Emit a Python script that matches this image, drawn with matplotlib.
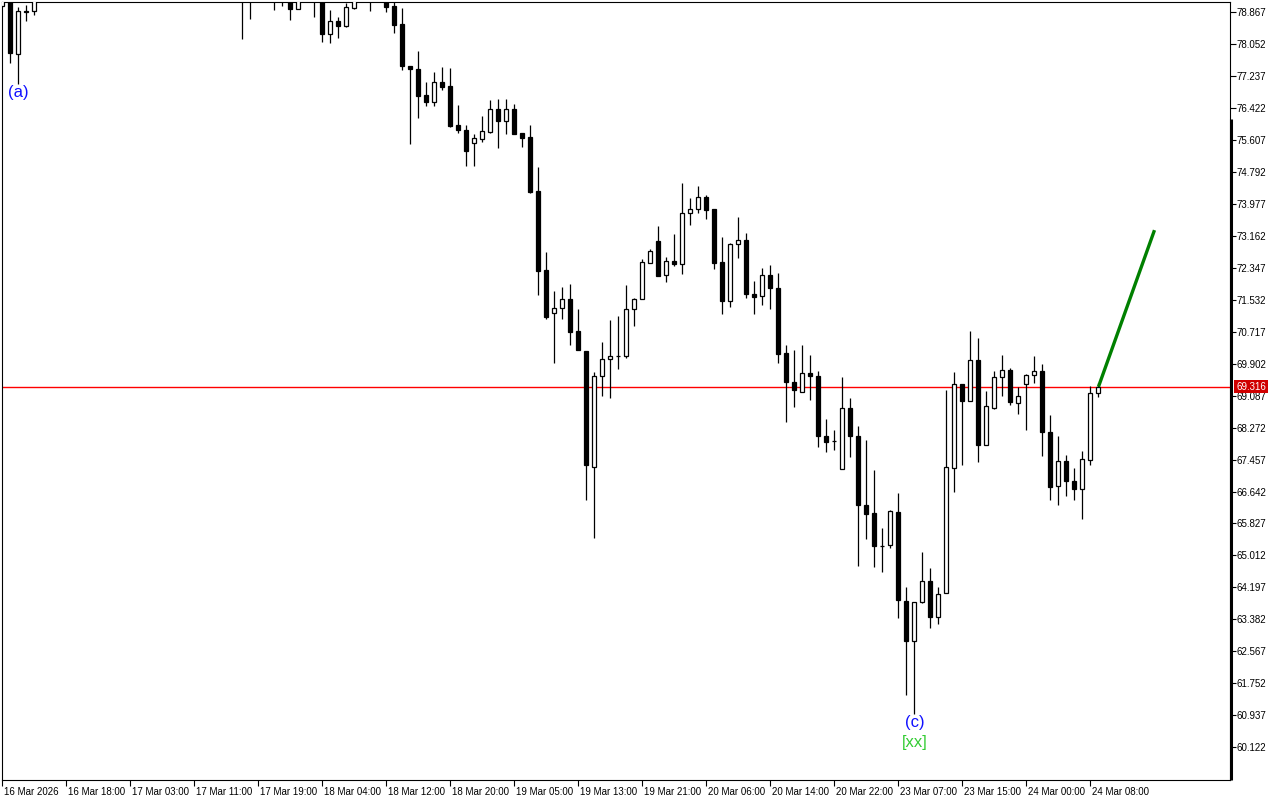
import numpy as np
import matplotlib.pyplot as plt
import matplotlib.transforms as mtransforms

plt.rcParams['font.family'] = ['Liberation Sans', 'DejaVu Sans']

# Hourly bars, index -1 .. 136 (bar 136 = 24 Mar 09:00)
opens = [79.04, 79.45, 77.80, 78.90, 78.91,
         79.30, 79.62, 79.80, 79.70, 79.95, 80.25, 80.10, 79.90, 80.15, 80.45,
         80.30, 80.05, 79.85, 80.00, 79.90, 79.65, 79.80, 80.10, 80.35, 80.15,
         79.95, 79.75, 79.85, 79.70, 79.60, 79.75, 79.55, 79.70, 79.50, 79.65,
         79.40, 79.60, 78.95, 79.25, 79.45, 79.30, 78.32, 78.65, 78.52, 78.98,
         79.30, 79.45, 79.35, 79.40, 79.02, 78.56, 77.51, 77.43, 76.75, 76.58,
         77.08, 76.98, 75.98, 75.86, 75.54, 75.64, 75.82, 76.39, 76.10, 76.39,
         75.78, 75.68, 74.30, 72.30, 71.19, 71.32, 71.56, 70.74, 70.23, 67.27,
         69.58, 70.02, 70.10, 70.09, 71.29, 71.55, 72.47, 73.03, 72.16, 72.52,
         72.45, 73.75, 73.86, 74.15, 73.85, 72.50, 71.51, 72.95, 73.06, 71.68,
         71.62, 72.17, 71.84, 70.18, 69.44, 69.19, 69.67, 69.59, 68.06, 67.92,
         67.22, 68.77, 68.07, 66.31, 66.10, 65.26, 65.29, 66.13, 63.86, 62.83,
         63.82, 64.37, 63.45, 64.06, 67.24, 69.39, 68.95, 69.99, 67.84, 68.77,
         69.56, 69.74, 68.90, 69.38, 69.61, 69.72, 68.16, 66.78, 67.42, 66.91,
         66.70, 67.45, 69.16]
highs = [79.50, 79.60, 78.99, 79.05, 79.45,
         79.75, 79.95, 80.10, 80.05, 80.40, 80.55, 80.35, 80.20, 80.60, 80.70,
         80.50, 80.25, 80.15, 80.30, 80.10, 79.95, 80.20, 80.45, 80.55, 80.30,
         80.20, 80.00, 80.10, 79.95, 79.90, 80.00, 79.85, 79.95, 79.80, 79.90,
         79.70, 79.80, 79.35, 79.50, 79.60, 79.45, 78.92, 78.76, 79.10, 79.40,
         79.55, 79.60, 79.55, 79.55, 79.25, 78.97, 77.51, 77.87, 77.08, 77.34,
         77.46, 77.44, 76.50, 75.99, 75.76, 76.22, 76.62, 76.65, 76.65, 76.52,
         75.78, 75.99, 74.92, 72.75, 71.76, 71.86, 71.94, 71.30, 70.23, 69.68,
         70.45, 71.02, 71.12, 71.91, 71.58, 72.57, 72.83, 73.41, 72.63, 73.21,
         74.50, 74.13, 74.43, 74.20, 73.85, 73.13, 72.97, 73.65, 73.24, 72.01,
         72.35, 72.42, 72.22, 70.38, 70.26, 70.38, 70.13, 69.71, 68.49, 68.22,
         69.56, 69.03, 68.31, 67.96, 67.20, 65.72, 66.16, 66.61, 64.20, 63.83,
         65.11, 64.70, 64.21, 69.22, 69.70, 69.39, 70.74, 70.56, 69.21, 69.72,
         70.13, 69.79, 69.32, 69.65, 70.09, 69.90, 68.60, 68.07, 67.58, 67.24,
         67.68, 69.34, 69.41]
lows = [79.04, 77.57, 77.03, 78.64, 78.80,
        79.22, 79.45, 79.55, 79.50, 79.85, 80.00, 79.80, 79.70, 80.05, 80.20,
        79.95, 79.75, 79.60, 79.80, 79.55, 79.40, 79.70, 79.95, 80.05, 79.85,
        79.65, 79.50, 79.60, 79.45, 79.35, 78.19, 78.70, 79.30, 79.25, 78.93,
        79.04, 78.67, 78.95, 79.20, 78.75, 78.11, 78.09, 78.21, 78.49, 78.95,
        79.20, 78.90, 79.22, 78.87, 78.34, 77.39, 75.50, 76.16, 76.47, 76.47,
        76.88, 75.94, 75.79, 74.94, 74.94, 75.56, 75.79, 75.41, 75.76, 75.77,
        75.43, 74.27, 71.66, 71.05, 69.91, 71.05, 70.39, 70.24, 66.43, 65.45,
        69.07, 69.02, 69.78, 70.04, 70.87, 71.55, 72.47, 72.15, 71.98, 72.40,
        72.20, 73.43, 73.75, 73.59, 72.31, 71.17, 71.36, 72.61, 71.59, 71.18,
        71.41, 71.31, 69.91, 68.41, 68.79, 69.18, 68.97, 67.77, 67.64, 67.69,
        67.22, 67.52, 64.74, 65.42, 64.71, 64.58, 65.19, 63.42, 61.44, 60.96,
        63.79, 63.16, 63.25, 64.06, 66.62, 67.33, 68.95, 67.39, 67.82, 68.75,
        69.07, 68.84, 68.61, 68.22, 69.40, 67.56, 66.43, 66.31, 66.52, 66.43,
        65.95, 67.33, 69.06]
closes = [79.35, 77.82, 78.89, 78.87, 79.30,
          79.62, 79.80, 79.70, 79.95, 80.25, 80.10, 79.90, 80.15, 80.45, 80.30,
          80.05, 79.85, 80.00, 79.90, 79.65, 79.80, 80.10, 80.35, 80.15, 79.95,
          79.75, 79.85, 79.70, 79.60, 79.75, 79.55, 79.70, 79.50, 79.65, 79.40,
          79.60, 78.95, 79.25, 79.45, 79.30, 78.31, 78.65, 78.53, 78.99, 79.30,
          79.45, 79.35, 79.40, 79.00, 78.55, 77.50, 77.42, 76.73, 76.58, 77.08,
          76.96, 75.96, 75.86, 75.33, 75.65, 75.84, 76.39, 76.10, 76.39, 75.77,
          75.66, 74.29, 72.28, 71.09, 71.32, 71.56, 70.72, 70.24, 67.31, 69.59,
          70.02, 70.09, 70.10, 71.29, 71.55, 72.49, 72.78, 72.15, 72.52, 72.45,
          73.76, 73.86, 74.15, 73.83, 72.48, 71.51, 72.96, 73.06, 71.67, 71.61,
          72.16, 71.83, 70.16, 69.43, 69.22, 69.66, 69.58, 68.05, 67.90, 67.92,
          68.77, 68.05, 66.29, 66.06, 65.25, 65.26, 66.14, 63.87, 62.83, 63.83,
          64.36, 63.44, 64.03, 67.28, 69.39, 68.94, 69.99, 67.84, 68.82, 69.56,
          69.74, 68.93, 69.08, 69.61, 69.71, 68.15, 66.77, 67.42, 66.90, 66.70,
          67.47, 69.16, 69.316]

xtick_bars = [-1.06, 7, 15, 23, 31, 39, 47, 55, 63, 71, 79, 87, 95, 103, 111, 119, 127, 135]
xtick_labels = ['16 Mar 2026', '16 Mar 18:00', '17 Mar 03:00', '17 Mar 11:00', '17 Mar 19:00',
                '18 Mar 04:00', '18 Mar 12:00', '18 Mar 20:00', '19 Mar 05:00', '19 Mar 13:00',
                '19 Mar 21:00', '20 Mar 06:00', '20 Mar 14:00', '20 Mar 22:00', '23 Mar 07:00',
                '23 Mar 15:00', '24 Mar 00:00', '24 Mar 08:00']
ytick_vals = [60.122 + 0.815 * k for k in range(24)]

last_price = 69.316
projection_x = [136, 143]
projection_y = [69.316, 73.31]

x = np.arange(len(opens)) - 1
o = np.array(opens)
h = np.array(highs)
l = np.array(lows)
c = np.array(closes)
up = c >= o

fig = plt.figure(figsize=(12.8, 8), dpi=100)
ax = fig.add_axes([2 / 1280, 20 / 800, 1228 / 1280, 778 / 800])

# wicks then bodies
ax.vlines(x, l, h, color='black', lw=0.9, zorder=2)
ax.bar(x[up], c[up] - o[up], bottom=o[up], width=0.5, color='white',
       edgecolor='black', linewidth=0.9, zorder=3)
ax.bar(x[~up], c[~up] - o[~up], bottom=o[~up], width=0.5, color='black',
       edgecolor='black', linewidth=0.9, zorder=3)

ax.axhline(last_price, color='red', lw=1.0, zorder=1)
ax.plot(projection_x, projection_y, color='#008000', lw=2.4, zorder=4,
        solid_capstyle='butt')

ax.text(1, 76.81, '(a)', color='#1010FF', fontsize=12, ha='center', va='center')
ax.text(113, 60.74, '(c)', color='#1010FF', fontsize=12, ha='center', va='center')
ax.text(113, 60.23, '[xx]', color='#33CC33', fontsize=12, ha='center', va='center')

ax.set_xlim(-1.06, 152.44)
ax.set_ylim(59.283, 79.13)

ax.yaxis.tick_right()
ax.set_yticks(ytick_vals)
ax.set_yticklabels([f'{v:.3f}' for v in ytick_vals])
ax.tick_params(axis='y', direction='out', length=4, width=0.8, pad=1, labelsize=7)
ax.set_xticks(xtick_bars)
ax.set_xticklabels(xtick_labels, ha='left')
ax.tick_params(axis='x', direction='out', length=4, width=0.8, pad=1, labelsize=7)
offset = mtransforms.ScaledTranslation(2 / 100, 0, fig.dpi_scale_trans)
for lab in ax.get_xticklabels():
    lab.set_transform(lab.get_transform() + offset)

for sp in ax.spines.values():
    sp.set_linewidth(0.8)

# current price tag on the price scale
trans = mtransforms.blended_transform_factory(ax.transAxes, ax.transData)
ax.text(1.005, last_price, '69.316', transform=trans, color='white', fontsize=7,
        ha='left', va='center', zorder=6,
        bbox=dict(facecolor='#D00000', edgecolor='none', pad=1.2))

# thick bar on the right border
ax.plot([1.001, 1.001], [0, (780 - 119) / 778], transform=ax.transAxes,
        color='black', lw=2.2, clip_on=False, solid_capstyle='butt')

fig.savefig('out.png', dpi=100, facecolor='white')
